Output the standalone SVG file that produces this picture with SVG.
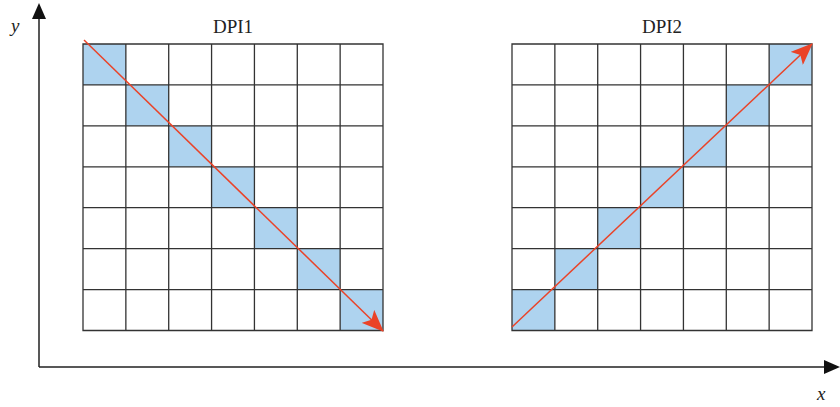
<svg xmlns="http://www.w3.org/2000/svg" width="840" height="407" viewBox="0 0 840 407">
<style>
.cell{fill:#aed3ef}
.grid{stroke:#333;stroke-width:1.3;fill:none}
.red{stroke:#ea4328;stroke-width:1.5;fill:none}
.axis{stroke:#222;stroke-width:1.5;fill:none}
.t{font-family:"Liberation Serif",serif;font-size:19px;fill:#222}
.it{font-family:"Liberation Serif",serif;font-size:19px;font-style:italic;fill:#222}
</style>
<defs>
<marker id="ra" markerWidth="22" markerHeight="18" refX="21" refY="9" orient="auto" markerUnits="userSpaceOnUse">
<path d="M0,0 L22,9 L0,18 L5,9 Z" fill="#ea4328"/>
</marker>
</defs>
<g id="axes">
<path class="axis" d="M39,367 V14 M39,367 H828"/>
<path d="M32,19 L39,3 L46,19 Z" fill="#111"/>
<path d="M824,360 L840,367 L824,374 Z" fill="#111"/>
<text class="it" x="11" y="32">y</text>
<text class="it" x="817" y="400">x</text>
</g>
<g id="grid1">
<text class="t" x="233" y="33" text-anchor="middle">DPI1</text>
<rect class="cell" x="83" y="44" width="42.86" height="40.93"/>
<rect class="cell" x="125.86" y="84.93" width="42.86" height="40.93"/>
<rect class="cell" x="168.71" y="125.86" width="42.86" height="40.93"/>
<rect class="cell" x="211.57" y="166.79" width="42.86" height="40.93"/>
<rect class="cell" x="254.43" y="207.71" width="42.86" height="40.93"/>
<rect class="cell" x="297.29" y="248.64" width="42.86" height="40.93"/>
<rect class="cell" x="340.14" y="289.57" width="42.86" height="40.93"/>
<path class="grid" d="M83,44 H383 V330.5 H83 Z M125.86,44 V330.5 M168.71,44 V330.5 M211.57,44 V330.5 M254.43,44 V330.5 M297.29,44 V330.5 M340.14,44 V330.5 M83,84.93 H383 M83,125.86 H383 M83,166.79 H383 M83,207.71 H383 M83,248.64 H383 M83,289.57 H383"/>
</g>
<g id="grid2">
<text class="t" x="662" y="33" text-anchor="middle">DPI2</text>
<rect class="cell" x="512" y="289.57" width="42.86" height="40.93"/>
<rect class="cell" x="554.86" y="248.64" width="42.86" height="40.93"/>
<rect class="cell" x="597.71" y="207.71" width="42.86" height="40.93"/>
<rect class="cell" x="640.57" y="166.79" width="42.86" height="40.93"/>
<rect class="cell" x="683.43" y="125.86" width="42.86" height="40.93"/>
<rect class="cell" x="726.29" y="84.93" width="42.86" height="40.93"/>
<rect class="cell" x="769.14" y="44" width="42.86" height="40.93"/>
<path class="grid" d="M512,44 H812 V330.5 H512 Z M554.86,44 V330.5 M597.71,44 V330.5 M640.57,44 V330.5 M683.43,44 V330.5 M726.29,44 V330.5 M769.14,44 V330.5 M512,84.93 H812 M512,125.86 H812 M512,166.79 H812 M512,207.71 H812 M512,248.64 H812 M512,289.57 H812"/>
</g>
<g id="connectors">
<line class="red" x1="84" y1="40" x2="383" y2="331" marker-end="url(#ra)"/>
<line class="red" x1="512" y1="327" x2="812" y2="44" marker-end="url(#ra)"/>
</g>
</svg>
